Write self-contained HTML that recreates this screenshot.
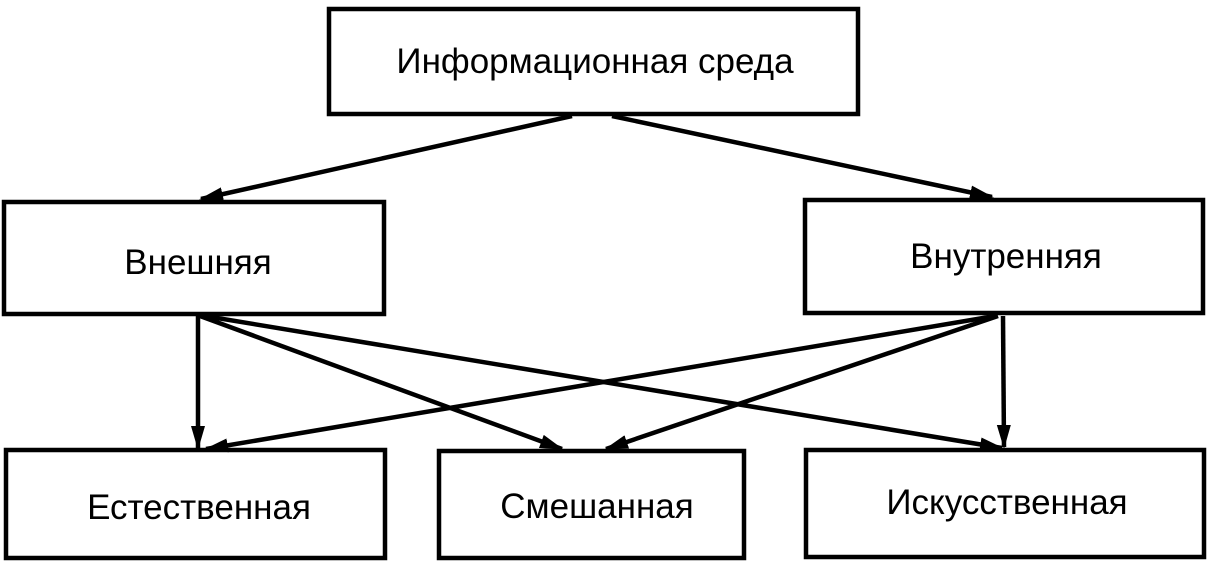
<!DOCTYPE html>
<html><head><meta charset="utf-8"><style>
body{margin:0;background:#fff;}
svg{display:block;}
text{font-family:"Liberation Sans",sans-serif;fill:#000;text-anchor:middle;}
</style></head><body>
<svg width="1209" height="565" viewBox="0 0 1209 565">
<defs>
<marker id="b" markerWidth="24" markerHeight="16" refX="22" refY="8" orient="auto" markerUnits="userSpaceOnUse"><path d="M0,1 L24,8 L0,15 z" fill="#000"/></marker></defs>
<g fill="none" stroke="#000" stroke-width="4.5">
<rect x="329" y="9" width="529" height="105"/>
<rect x="4" y="202" width="380" height="112"/>
<rect x="805" y="200" width="398" height="113"/>
<rect x="6" y="450" width="379" height="108"/>
<rect x="439" y="451" width="305" height="107"/>
<rect x="806" y="450" width="398" height="107"/>
</g>
<g stroke="#000" stroke-width="4.5" marker-end="url(#b)">
<line x1="572" y1="116" x2="201" y2="199"/>
<line x1="612" y1="116" x2="992" y2="197"/>
<line x1="198" y1="316" x2="198" y2="448"/>
<line x1="200" y1="316" x2="562" y2="449"/>
<line x1="205" y1="316" x2="1002" y2="448"/>
<line x1="1003" y1="316" x2="1004" y2="447"/>
<line x1="995" y1="316" x2="206" y2="449"/>
<line x1="998" y1="316" x2="606" y2="449"/>
</g>
<text x="595" y="73" font-size="35">Информационная среда</text>
<text x="198" y="274" font-size="35">Внешняя</text>
<text x="1006" y="268" font-size="35">Внутренняя</text>
<text x="199" y="519" font-size="35">Естественная</text>
<text x="597" y="518" font-size="35">Смешанная</text>
<text x="1007" y="514" font-size="35">Искусственная</text>
</svg>
</body></html>
